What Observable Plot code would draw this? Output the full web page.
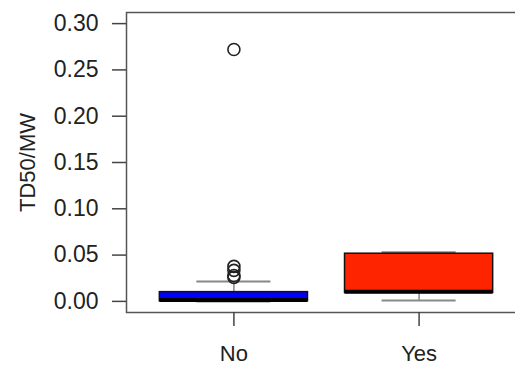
<!DOCTYPE html>
<html>
<head>
<meta charset="utf-8">
<script src="https://cdn.jsdelivr.net/npm/d3@7"></script>
<script src="https://cdn.jsdelivr.net/npm/@observablehq/plot@0.6"></script>
<style>
html, body { margin: 0; padding: 0; overflow: hidden; background: #fff; width: 515px; height: 365px; }
#chart { width: 515px; height: 365px; overflow: hidden; }
</style>
</head>
<body>
<div id="chart"></div>
<script>
// Data
const groups = ["No", "Yes"];
const lowerWhisker = [0.0, 0.001];
const q1 = [0.0002, 0.0092];
const median = [0.0015, 0.0103];
const q3 = [0.0100, 0.0515];
const upperWhisker = [0.0216, 0.0532];
const outliersNo = [0.272, 0.0378, 0.0335, 0.028, 0.0259];
const outliersYes = [];
const fills = ["#0000ff", "#ff2400"];
const yTicks = [0, 0.05, 0.10, 0.15, 0.20, 0.25, 0.30];
const yLabel = "TD50/MW";

const boxes = groups.map((g, i) => ({
  pos: i + 1, group: g, lo: lowerWhisker[i], q1: q1[i], med: median[i],
  q3: q3[i], hi: upperWhisker[i], fill: fills[i]
}));
const outliers = [
  ...outliersNo.map(v => ({pos: 1, v})),
  ...outliersYes.map(v => ({pos: 2, v}))
];
const halfBox = 0.4, halfCap = 0.2;

const chart = Plot.plot({
  width: 526,
  height: 365,
  marginLeft: 126,
  marginRight: 0,
  marginTop: 12,
  marginBottom: 53,
  style: {fontFamily: "'Liberation Sans', Arial, sans-serif", fontSize: "22px", color: "#222", background: "#fff", maxWidth: "none", overflow: "hidden"},
  x: {domain: [0.42, 2.58], ticks: [1, 2], tickFormat: d => groups[d - 1], label: null},
  y: {domain: [-0.012, 0.312], ticks: yTicks, tickFormat: d3.format(".2f"), label: null},
  marks: [
    Plot.frame({stroke: "#555", strokeWidth: 1.5}),
    // whiskers
    Plot.ruleX(boxes, {x: "pos", y1: "q3", y2: "hi", stroke: "#888", strokeWidth: 1.5}),
    Plot.ruleX(boxes, {x: "pos", y1: "lo", y2: "q1", stroke: "#888", strokeWidth: 1.5}),
    // caps
    Plot.ruleY(boxes, {y: "hi", x1: d => d.pos - halfCap, x2: d => d.pos + halfCap, stroke: "#888", strokeWidth: 2}),
    Plot.ruleY(boxes, {y: "lo", x1: d => d.pos - halfCap, x2: d => d.pos + halfCap, stroke: "#888", strokeWidth: 2}),
    // boxes
    Plot.rect(boxes, {x1: d => d.pos - halfBox, x2: d => d.pos + halfBox, y1: "q1", y2: "q3", fill: "fill", stroke: "#111", strokeWidth: 1.5}),
    // medians
    Plot.ruleY(boxes, {y: "med", x1: d => d.pos - halfBox, x2: d => d.pos + halfBox, stroke: "#000", strokeWidth: 4}),
    // outliers
    Plot.dot(outliers, {x: "pos", y: "v", r: 6, stroke: "#222", strokeWidth: 1.6, fill: "none"}),
    Plot.axisY({ticks: yTicks, tickFormat: d3.format(".2f"), tickSize: 14, tickPadding: 14, stroke: "#444", strokeWidth: 1.5, fontSize: 23, label: null}),
    Plot.axisX({ticks: [1, 2], tickFormat: d => groups[d - 1], tickSize: 14, tickPadding: 19, stroke: "#444", strokeWidth: 1.5, label: null}),
    Plot.text([yLabel], {frameAnchor: "left", dx: -99, rotate: -90, textAnchor: "middle", lineAnchor: "middle", fill: "#222", fontSize: 22})
  ]
});
document.getElementById("chart").appendChild(chart);
</script>
</body>
</html>
